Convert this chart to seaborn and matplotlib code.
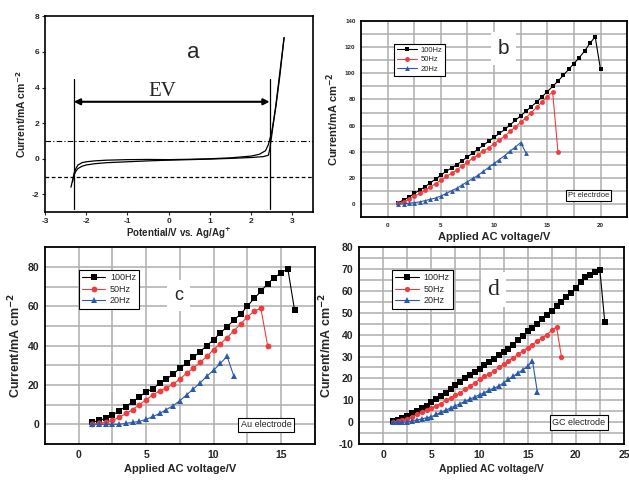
import numpy as np
import pandas as pd
import matplotlib
matplotlib.use("Agg")
import matplotlib.pyplot as plt
import seaborn as sns

# ---------------- data ----------------
# panel a: cyclic voltammogram (two branches)
cv1_x = [-2.37, -2.33, -2.3, -2.25, -2.2, -2.1, -2.0, -1.8, -1.5, -1.0, -0.5, 0.0, 0.5, 1.0, 1.5, 2.0, 2.3, 2.42, 2.45, 2.5, 2.6, 2.7, 2.8]
cv1_y = [-1.6, -1.2, -0.95, -0.7, -0.55, -0.42, -0.35, -0.28, -0.22, -0.17, -0.12, -0.08, -0.05, -0.02, 0.02, 0.07, 0.12, 0.2, 0.5, 1.3, 3.0, 4.9, 6.8]
cv2_x = [-2.33, -2.3, -2.25, -2.2, -2.1, -2.0, -1.8, -1.5, -1.0, -0.5, 0.0, 0.5, 1.0, 1.5, 2.0, 2.2, 2.35, 2.42, 2.5, 2.6, 2.7, 2.8]
cv2_y = [-1.3, -0.85, -0.55, -0.35, -0.22, -0.17, -0.12, -0.08, -0.05, -0.04, -0.05, -0.03, 0.0, 0.05, 0.15, 0.25, 0.45, 0.8, 1.5, 2.9, 4.7, 6.8]
ev_left = -2.3
ev_right = 2.45
ev_arrow_y = 3.2

# panel b: Pt electrode
b_x100 = [1, 1.5, 2, 2.5, 3, 3.5, 4, 4.5, 5, 5.5, 6, 6.5, 7, 7.5, 8, 8.5, 9, 9.5, 10, 10.5, 11, 11.5, 12, 12.5, 13, 13.5, 14, 14.5, 15, 15.5, 16, 16.5, 17, 17.5, 18, 18.5, 19, 19.5, 20]
b_y100 = [1, 3, 5, 8, 10.5, 13, 16, 19, 22, 25, 27.5, 30, 33, 36, 39, 42, 45, 48, 51, 54, 57, 60.5, 64, 67.5, 71, 74.5, 78, 82, 86, 90, 94, 98.5, 103, 107.5, 112, 117, 123, 128, 103]
b_x50 = [1, 1.5, 2, 2.5, 3, 3.5, 4, 4.5, 5, 5.5, 6, 6.5, 7, 7.5, 8, 8.5, 9, 9.5, 10, 10.5, 11, 11.5, 12, 12.5, 13, 13.5, 14, 14.5, 15, 15.5, 16]
b_y50 = [0.5, 1.5, 3.5, 6, 8, 10.5, 13, 15.5, 18, 21, 23.5, 26, 29, 32, 35, 37.5, 40.5, 43, 46, 49, 52, 55.5, 59, 62.5, 66, 70, 74, 78, 82, 86, 40]
b_x20 = [1, 1.5, 2, 2.5, 3, 3.5, 4, 4.5, 5, 5.5, 6, 6.5, 7, 7.5, 8, 8.5, 9, 9.5, 10, 10.5, 11, 11.5, 12, 12.5, 13]
b_y20 = [0, 0, 0.5, 1, 1.5, 2.5, 3.5, 4.5, 6, 8, 10, 12, 14.5, 17, 19.5, 22, 25, 28, 31, 34, 37, 40.5, 43.5, 47, 39]

# panel c: Au electrode
c_x100 = [1, 1.5, 2, 2.5, 3, 3.5, 4, 4.5, 5, 5.5, 6, 6.5, 7, 7.5, 8, 8.5, 9, 9.5, 10, 10.5, 11, 11.5, 12, 12.5, 13, 13.5, 14, 14.5, 15, 15.5, 16]
c_y100 = [1, 2, 3, 4.5, 7, 9, 11.5, 14, 16.5, 18, 21, 23, 25.5, 28.5, 31, 34, 37, 40, 43, 46.5, 49.5, 53, 56, 60, 64, 67.5, 71.5, 74.5, 77, 79, 58]
c_x50 = [1, 1.5, 2, 2.5, 3, 3.5, 4, 4.5, 5, 5.5, 6, 6.5, 7, 7.5, 8, 8.5, 9, 9.5, 10, 10.5, 11, 11.5, 12, 12.5, 13, 13.5, 14]
c_y50 = [0, 0.5, 1, 2, 3.5, 5.5, 7.5, 10, 12.5, 15, 17, 18.5, 20.5, 23, 26, 28.5, 31.5, 34.5, 38, 41, 44, 47.5, 51, 54.5, 57.5, 59, 40]
c_x20 = [1, 1.5, 2, 2.5, 3, 3.5, 4, 4.5, 5, 5.5, 6, 6.5, 7, 7.5, 8, 8.5, 9, 9.5, 10, 10.5, 11, 11.5]
c_y20 = [0, 0, 0, 0, 0, 0.5, 1, 1.5, 2.5, 4, 5.5, 7.5, 9.5, 12, 15, 18, 21, 24.5, 27.5, 31, 34.5, 24.5]

# panel d: GC electrode
d_x100 = [1, 1.5, 2, 2.5, 3, 3.5, 4, 4.5, 5, 5.5, 6, 6.5, 7, 7.5, 8, 8.5, 9, 9.5, 10, 10.5, 11, 11.5, 12, 12.5, 13, 13.5, 14, 14.5, 15, 15.5, 16, 16.5, 17, 17.5, 18, 18.5, 19, 19.5, 20, 20.5, 21, 21.5, 22, 22.5, 23]
d_y100 = [0.5, 1, 2, 3, 4, 5, 6.5, 7.5, 9, 10.5, 12, 13.5, 15, 17, 18.5, 20, 21.5, 23, 24.5, 26, 27.5, 29, 30.5, 32, 33.5, 35.5, 37.5, 39.5, 41.5, 43, 45, 47, 49, 51, 53, 55, 57, 59, 61.5, 64, 66.5, 67.5, 68.5, 69.5, 46]
d_x50 = [1, 1.5, 2, 2.5, 3, 3.5, 4, 4.5, 5, 5.5, 6, 6.5, 7, 7.5, 8, 8.5, 9, 9.5, 10, 10.5, 11, 11.5, 12, 12.5, 13, 13.5, 14, 14.5, 15, 15.5, 16, 16.5, 17, 17.5, 18, 18.5]
d_y50 = [0, 0.5, 1, 1.5, 2.5, 3.5, 4.5, 5.5, 6.5, 7.5, 8.5, 10, 11, 12.5, 13.5, 15, 16.5, 18, 19.5, 21, 22, 23.5, 25, 26.5, 28, 29.5, 31, 32.5, 34, 35.5, 37, 38.5, 40, 42, 43.5, 30]
d_x20 = [1, 1.5, 2, 2.5, 3, 3.5, 4, 4.5, 5, 5.5, 6, 6.5, 7, 7.5, 8, 8.5, 9, 9.5, 10, 10.5, 11, 11.5, 12, 12.5, 13, 13.5, 14, 14.5, 15, 15.5, 16]
d_y20 = [0, 0, 0, 0, 0.5, 1, 1.5, 2, 2.5, 3.5, 4.5, 5.5, 6.5, 7.5, 8.5, 9.5, 10.5, 11.5, 12.5, 13.5, 14.5, 15.5, 16.5, 18, 19.5, 21, 22.5, 24, 25.5, 28, 14]

series_labels = ["100Hz", "50Hz", "20Hz"]
series_colors = ["#000000", "#f03c3c", "#2a5aac"]
series_markers = ["s", "o", "^"]

# ---------------- style ----------------
sns.set_theme(style="white")
plt.rcParams["font.family"] = ["Liberation Sans", "DejaVu Sans"]
plt.rcParams["axes.unicode_minus"] = False

fig = plt.figure(figsize=(6.29, 4.80), dpi=100)
ax_a = fig.add_axes([0.0715, 0.558, 0.426, 0.408])
ax_b = fig.add_axes([0.574, 0.548, 0.423, 0.408])
ax_c = fig.add_axes([0.0715, 0.075, 0.429, 0.410])
ax_d = fig.add_axes([0.571, 0.075, 0.421, 0.410])

ylab = "Current/mA cm$^{\\mathbf{-2}}$"

# ---------------- panel a ----------------
ax = ax_a
for xs, ys in [(cv1_x, cv1_y), (cv2_x, cv2_y)]:
    sns.lineplot(x=xs, y=ys, ax=ax, color="black", linewidth=0.9, sort=False, estimator=None)
ax.axhline(1, color="black", linestyle=(0, (5, 2, 1, 2)), linewidth=0.8)
ax.axhline(-1, color="black", linestyle=(0, (3, 2)), linewidth=0.9)
ax.plot([ev_left, ev_left], [-2.85, 4.5], color="black", linewidth=0.9)
ax.plot([ev_right, ev_right], [-2.85, 4.5], color="black", linewidth=0.9)
ax.annotate("", xy=(ev_left, ev_arrow_y), xytext=(ev_right, ev_arrow_y),
            arrowprops=dict(arrowstyle="<|-|>", color="black", lw=1.5, mutation_scale=9, shrinkA=0, shrinkB=0))
ax.text(-0.15, 3.8, "EV", family=["Liberation Serif", "DejaVu Serif"], fontsize=15, ha="center", va="center")
ax.text(0.6, 5.95, "a", fontsize=16, ha="center", va="center")
ax.set_xlim(-3, 3.5)
ax.set_ylim(-3, 8)
ax.set_xticks([-3, -2, -1, 0, 1, 2, 3])
ax.set_yticks([-2, 0, 2, 4, 6, 8])
ax.set_xlabel("Potential/V vs. Ag/Ag$^{\\mathbf{+}}$", fontsize=7, fontweight="bold", labelpad=1)
ax.set_ylabel(ylab, fontsize=7.5, fontweight="bold", labelpad=3)
ax.tick_params(axis="both", direction="out", length=2.5, width=0.8, labelsize=6, pad=1.5, bottom=True, left=True)
for lab in ax.get_xticklabels() + ax.get_yticklabels():
    lab.set_fontweight("bold")
for s in ax.spines.values():
    s.set_color("black"); s.set_linewidth(1.2)


def excel_panel(ax, data, xlim, ylim, xticks, yticks, xgrid, ygrid, label, label_pos, label_family,
                label_size, elec, elec_pos, elec_size, tick_size, lab_size, ylab_size, msize, leg_size):
    ax.grid(False)
    ax.vlines(xgrid, ylim[0], ylim[1], colors="#adadad", linewidths=1.1, zorder=1)
    ax.hlines(ygrid, xlim[0], xlim[1], colors="#adadad", linewidths=1.1, zorder=1)
    for (xs, ys), lab, col, mk in zip(data, series_labels, series_colors, series_markers):
        df = pd.DataFrame({"x": xs, "y": ys})
        sns.lineplot(data=df, x="x", y="y", ax=ax, color=col, marker=mk, markersize=msize,
                     markeredgewidth=0, linewidth=0.8, label=lab, estimator=None, zorder=3)
    ax.set_xlim(*xlim)
    ax.set_ylim(*ylim)
    ax.set_xticks(xticks)
    ax.set_yticks(yticks)
    ax.set_xlabel("Applied AC voltage/V", fontsize=lab_size, fontweight="bold", labelpad=3)
    ax.set_ylabel(ylab, fontsize=ylab_size, fontweight="bold", labelpad=3)
    ax.tick_params(axis="both", which="both", length=0, labelsize=tick_size, pad=4)
    for t in ax.get_xticklabels() + ax.get_yticklabels():
        t.set_fontweight("bold")
    for s in ax.spines.values():
        s.set_color("black"); s.set_linewidth(1.3); s.set_zorder(5)
    leg = ax.legend(loc="upper left", bbox_to_anchor=(0.125, 0.885), fontsize=leg_size, frameon=True,
                    fancybox=False, framealpha=1, edgecolor="black", handlelength=2.6,
                    borderpad=0.35, labelspacing=0.3, handletextpad=0.5, borderaxespad=0)
    leg.get_frame().set_linewidth(0.8)
    ax.text(label_pos[0], label_pos[1], label, transform=ax.transAxes, fontsize=label_size,
            family=label_family, ha="center", va="center", zorder=4,
            bbox=dict(facecolor="white", edgecolor="none", pad=5))
    ax.text(elec_pos[0], elec_pos[1], elec, transform=ax.transAxes, fontsize=elec_size,
            ha="center", va="center", zorder=4,
            bbox=dict(boxstyle="square,pad=0.3", facecolor="white", edgecolor="black", linewidth=0.8))


excel_panel(ax_b, [(b_x100, b_y100), (b_x50, b_y50), (b_x20, b_y20)],
            (-2.5, 22.5), (-10, 140), [0, 5, 10, 15, 20], list(range(0, 141, 20)),
            np.arange(0, 22.6, 2.5), np.arange(0, 140, 10),
            "b", (0.535, 0.86), ["Liberation Sans", "DejaVu Sans"], 15,
            "Pt electrdoe", (0.855, 0.11), 5.5, 4.5, 8, 8, 3.5, 5.5)

excel_panel(ax_c, [(c_x100, c_y100), (c_x50, c_y50), (c_x20, c_y20)],
            (-2.5, 17.5), (-10, 90), [0, 5, 10, 15], list(range(0, 81, 20)),
            np.arange(0, 17.6, 2.5), np.arange(0, 90, 10),
            "c", (0.494, 0.755), ["Liberation Sans", "DejaVu Sans"], 13,
            "Au electrode", (0.82, 0.097), 6.5, 7.5, 8, 9, 4.2, 6.5)

excel_panel(ax_d, [(d_x100, d_y100), (d_x50, d_y50), (d_x20, d_y20)],
            (-2.5, 25), (-10, 80), [0, 5, 10, 15, 20, 25], list(range(-10, 81, 10)),
            np.arange(0, 25, 2.5), np.arange(-5, 80, 5),
            "d", (0.507, 0.785), ["Liberation Serif", "DejaVu Serif"], 17,
            "GC electrode", (0.83, 0.11), 6.5, 7.5, 7.5, 9, 3.8, 6.5)

fig.savefig("out.png", dpi=100)
